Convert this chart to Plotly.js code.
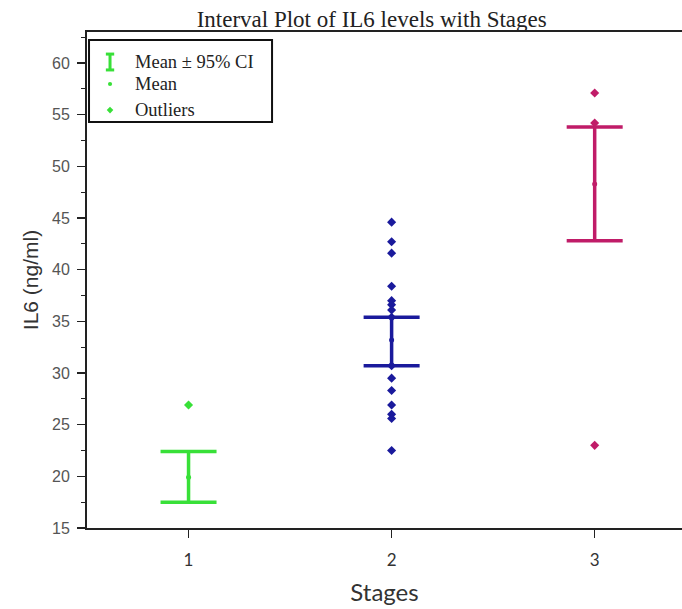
<!DOCTYPE html>
<html>
<head>
<meta charset="utf-8">
<script src="https://cdn.plot.ly/plotly-3.0.1.min.js"></script>
<style>html,body{margin:0;padding:0;background:#fff;}#chart{width:682px;height:609px;}</style>
</head>
<body>
<div id="chart"></div>
<script>
// ---- data ----
var stages = [1, 2, 3];
var stageLabels = ["1", "2", "3"];
var means = [19.9, 33.2, 48.3];
var ciUpper = [22.4, 35.4, 53.8];
var ciLower = [17.5, 30.7, 42.8];
var stage1Points = [26.9];
var stage2Points = [44.6, 42.7, 41.6, 38.4, 37.0, 36.6, 36.1, 35.4, 30.7, 29.5, 28.3, 26.9, 26.0, 25.6, 22.5];
var stage3Points = [57.1, 54.2, 23.0];
var yTickVals = [15, 20, 25, 30, 35, 40, 45, 50, 55, 60];
var legendLabels = ["Mean \u00b1 95% CI", "Mean", "Outliers"];

var colors = ["#38e038", "#1a1a9c", "#c01c68"];
var pointSets = [stage1Points, stage2Points, stage3Points];

var traces = [];
// data points (outliers)
pointSets.forEach(function (pts, i) {
  traces.push({
    type: "scatter", mode: "markers",
    x: pts.map(function () { return stages[i]; }),
    y: pts,
    marker: { symbol: "diamond", size: 7, color: colors[i] },
    showlegend: false, hoverinfo: "y"
  });
});
// mean +/- CI
stages.forEach(function (s, i) {
  traces.push({
    type: "scatter", mode: "markers",
    x: [s], y: [means[i]],
    marker: { symbol: "circle", size: 5, color: colors[i] },
    error_y: {
      type: "data", symmetric: false,
      array: [ciUpper[i] - means[i]],
      arrayminus: [means[i] - ciLower[i]],
      color: colors[i], thickness: 3.5, width: 28
    },
    showlegend: false
  });
});

// legend drawn manually (box, icons, labels) in paper coordinates
var L = { x0: 0.0034, x1: 0.311, y0: 0.8185, y1: 0.984 };
var ix = 0.0387; // icon centre x
var rowY = [0.9395, 0.8952, 0.8427];
var green = "#38e038";
var shapes = [
  { type: "rect", xref: "paper", yref: "paper", x0: L.x0, x1: L.x1, y0: L.y0, y1: L.y1,
    line: { color: "#111", width: 2 }, fillcolor: "rgba(255,255,255,1)" },
  // I-bar icon
  { type: "line", xref: "paper", yref: "paper", x0: ix, x1: ix, y0: rowY[0] - 0.016, y1: rowY[0] + 0.016, line: { color: green, width: 3 } },
  { type: "line", xref: "paper", yref: "paper", x0: ix - 0.007, x1: ix + 0.007, y0: rowY[0] + 0.016, y1: rowY[0] + 0.016, line: { color: green, width: 3 } },
  { type: "line", xref: "paper", yref: "paper", x0: ix - 0.007, x1: ix + 0.007, y0: rowY[0] - 0.016, y1: rowY[0] - 0.016, line: { color: green, width: 3 } },
  // mean dot
  { type: "circle", xref: "paper", yref: "paper", x0: ix - 0.0035, x1: ix + 0.0035, y0: rowY[1] - 0.0042, y1: rowY[1] + 0.0042,
    fillcolor: green, line: { width: 0 } },
  // diamond
  { type: "path", xref: "paper", yref: "paper",
    path: "M " + (ix - 0.0055) + " " + rowY[2] + " L " + ix + " " + (rowY[2] + 0.0068) + " L " + (ix + 0.0055) + " " + rowY[2] + " L " + ix + " " + (rowY[2] - 0.0068) + " Z",
    fillcolor: green, line: { width: 0 } }
];
var annotations = legendLabels.map(function (t, i) {
  return { xref: "paper", yref: "paper", x: 0.0773, y: rowY[i], xanchor: "left", yanchor: "middle",
    text: t, showarrow: false, font: { family: "Liberation Serif, serif", size: 18.5, color: "#222" } };
});

var layout = {
  width: 682, height: 609,
  margin: { l: 87, r: 0, t: 32, b: 81 },
  paper_bgcolor: "#fff", plot_bgcolor: "#fff",
  title: { text: "Interval Plot of IL6 levels with Stages", xref: "container", x: 0.545, xanchor: "center",
    yref: "container", y: 0.969, yanchor: "middle",
    font: { family: "Liberation Serif, serif", size: 23, color: "#222" } },
  xaxis: {
    range: [0.5, 3.43], tickvals: stages, ticktext: stageLabels,
    showline: true, linecolor: "#222", linewidth: 2, mirror: true,
    ticks: "outside", ticklen: 8, tickwidth: 1.5, tickcolor: "#222",
    ticklabelstandoff: 8,
    showgrid: false, zeroline: false,
    tickfont: { family: "Lato, sans-serif", size: 17, color: "#333" },
    title: { text: "Stages", standoff: 15, font: { family: "Lato, sans-serif", size: 24, color: "#333" } }
  },
  yaxis: {
    range: [15, 63], tickvals: yTickVals,
    showline: true, linecolor: "#222", linewidth: 2,
    ticks: "outside", ticklen: 8, tickwidth: 1.5, tickcolor: "#222",
    ticklabelstandoff: 4,
    minor: { dtick: 2.5, tick0: 15, ticks: "outside", ticklen: 4, tickcolor: "#222", tickwidth: 1.2, showgrid: false },
    showgrid: false, zeroline: false,
    tickfont: { family: "Liberation Sans, Arial, sans-serif", size: 16, color: "#555" },
    title: { text: "IL6 (ng/ml)", standoff: 8, font: { family: "Liberation Sans, Arial, sans-serif", size: 21, color: "#333" } }
  },
  shapes: shapes,
  annotations: annotations,
  showlegend: false
};

Plotly.newPlot("chart", traces, layout, { displayModeBar: false, staticPlot: true });
</script>
</body>
</html>
